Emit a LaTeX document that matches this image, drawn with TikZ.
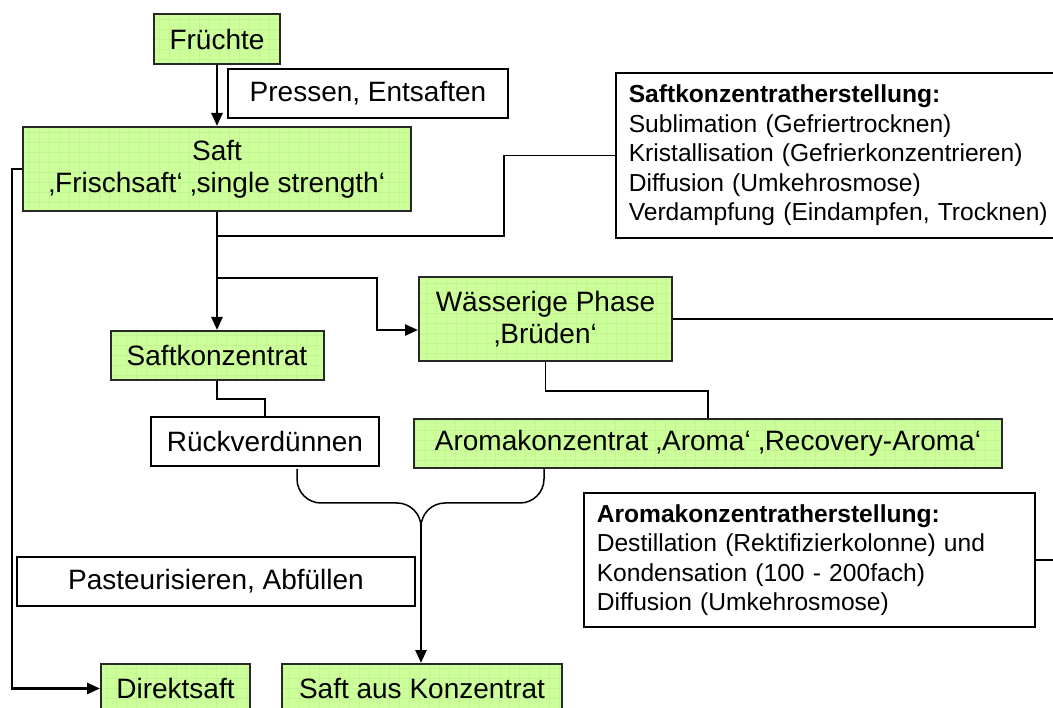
\documentclass[tikz,border=0pt]{standalone}
\usepackage{fontspec}
\setmainfont{Liberation Sans}
\usepackage{xcolor}
\usepackage{tikz}
\usetikzlibrary{arrows.meta}

\definecolor{boxgreen}{RGB}{204,255,153}
\definecolor{gridgreen}{RGB}{194,244,148}
\definecolor{edgegray}{RGB}{40,40,40}

\tikzset{
  every node/.style={font=\fontsize{28}{32}\selectfont, inner sep=0pt},
  product/.style={draw=edgegray, line width=2pt, fill=boxgreen, align=center,
    path picture={\draw[gridgreen, line width=0.5pt, step=10pt]
      (path picture bounding box.south west) grid (path picture bounding box.north east);}},
  process/.style={draw, line width=1.6pt, fill=white, align=center},
  method/.style={draw, line width=1.6pt, fill=white, align=left, inner xsep=13pt,
    font=\fontsize{24.6}{29.5}\selectfont},
  link/.style={line width=1.5pt},
  flow/.style={line width=2.6pt, -{Triangle[length=13pt,width=11pt]}},
}

\begin{document}
\begin{tikzpicture}[x=1pt,y=-1pt]
  \useasboundingbox (0,0) rectangle (1053,708);
  \clip (0,0) rectangle (1053,708);

  \node[product, minimum width=126pt, minimum height=50pt] (fruechte) at (217,39) {Früchte};
  \node[process, minimum width=280pt, minimum height=49pt] (pressen) at (368,93.5) {Pressen, Entsaften};
  \node[product, minimum width=388pt, minimum height=84pt] (saft) at (217,169) {Saft\\‚Frischsaft‘ ‚single strength‘};
  \node[method, anchor=west, text width=434pt, minimum height=165pt] (konzherst) at (615,155.5)
    {\textbf{Saftkonzentratherstellung:}\\Sublimation (Gefriertrocknen)\\Kristallisation (Gefrierkonzentrieren)\\Diffusion (Umkehrosmose)\\Verdampfung (Eindampfen, Trocknen)};
  \node[product, minimum width=213pt, minimum height=49pt] (saftkonz) at (217,355.5) {Saftkonzentrat};
  \node[product, minimum width=253pt, minimum height=84pt] (waessrig) at (545.5,319) {Wässerige Phase\\‚Brüden‘};
  \node[process, minimum width=228pt, minimum height=49pt] (rueck) at (265,441.5) {Rückverdünnen};
  \node[product, minimum width=588pt, minimum height=49pt] (aroma) at (708,443.5) {Aromakonzentrat ‚Aroma‘ ‚Recovery-Aroma‘};
  \node[method, anchor=west, text width=425pt, minimum height=134pt] (aromaherst) at (583,560)
    {\textbf{Aromakonzentratherstellung:}\\Destillation (Rektifizierkolonne) und\\Kondensation (100 - 200fach)\\Diffusion (Umkehrosmose)};
  \node[process, minimum width=398pt, minimum height=49pt] (pasteur) at (216,581.5) {Pasteurisieren, Abfüllen};
  \node[product, minimum width=149pt, minimum height=49pt] (direkt) at (175.5,688.5) {Direktsaft};
  \node[product, minimum width=280pt, minimum height=49pt] (auskonz) at (422,688.5) {Saft aus Konzentrat};

  \coordinate (tap) at (504,236);
  \coordinate (split) at (217,278);
  \coordinate (bend) at (377,278);
  \coordinate (rail) at (12,400);
  \coordinate (rimA) at (1060,319);
  \coordinate (rimB) at (1060,560);
  \coordinate (lbrace) at (297,469);
  \coordinate (rbrace) at (544,469);
  \coordinate (fork) at (421,503);
  \coordinate (joint) at (421,527);

  \draw[flow] (fruechte.south) -- (fruechte.south |- saft.north);
  \draw[link] (saft.south) |- (tap) |- (konzherst.west);
  \draw[flow] (saft.south) -- (saftkonz.north);
  \draw[flow] (split) -- (bend) |- (waessrig.west |- saftkonz.north);
  \draw[flow] (saft.west) -| (rail) |- (direkt.west);
  \draw[link] (waessrig.east) -- (rimA);
  \draw[link] (aromaherst.east) -- (rimB);
  \draw[link] (saftkonz.south) -- ++(0,18) -| (rueck.north);
  \draw[link] (waessrig.south) -- ++(0,29) -| (aroma.north);
  \draw[link, rounded corners=24pt] (lbrace) |- (fork) -- (joint);
  \draw[link, rounded corners=24pt] (rbrace) |- (fork) -- (joint);
  \draw[flow] (joint) -- (joint |- auskonz.north);
\end{tikzpicture}
\end{document}
